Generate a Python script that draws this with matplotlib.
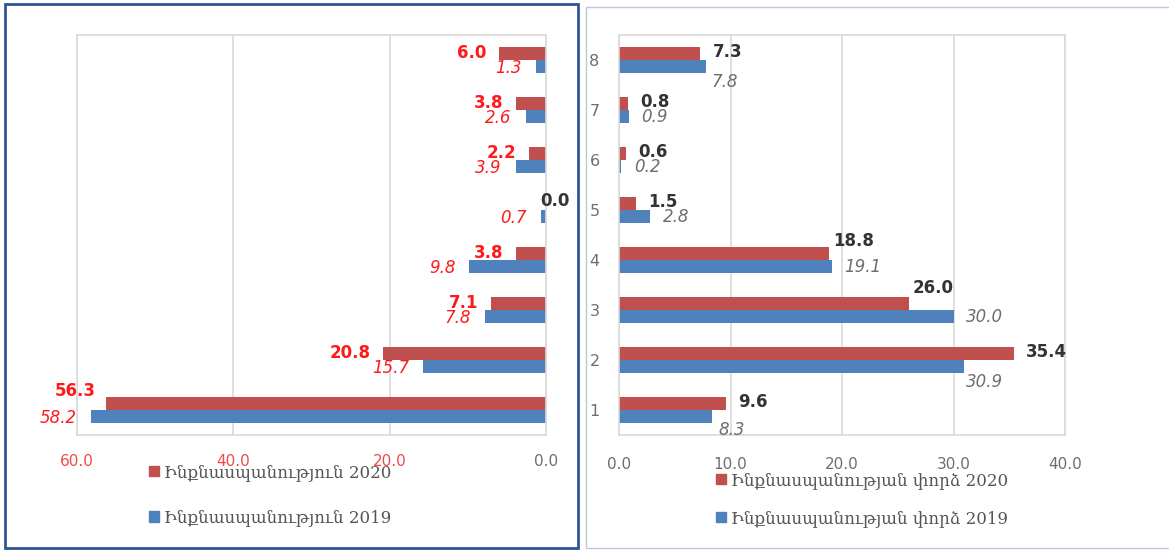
import matplotlib.pyplot as plt
from matplotlib.patches import Rectangle, Patch
import numpy as np

# дані: категорії 1..8 (знизу вгору)
categories = ['1', '2', '3', '4', '5', '6', '7', '8']
suicide_2020 = [56.3, 20.8, 7.1, 3.8, 0.0, 2.2, 3.8, 6.0]
suicide_2019 = [58.2, 15.7, 7.8, 9.8, 0.7, 3.9, 2.6, 1.3]
attempt_2020 = [9.6, 35.4, 26.0, 18.8, 1.5, 0.6, 0.8, 7.3]
attempt_2019 = [8.3, 30.9, 30.0, 19.1, 2.8, 0.2, 0.9, 7.8]

left_ticks = [0, 20, 40, 60]
right_ticks = [0, 10, 20, 30, 40]

label_left_2020 = 'Ինքնասպանություն 2020'
label_left_2019 = 'Ինքնասպանություն 2019'
label_right_2020 = 'Ինքնասպանության փորձ 2020'
label_right_2019 = 'Ինքնասպանության փորձ 2019'

RED = '#C0504D'
BLUE = '#4F81BD'
GRID = '#D9D9D9'
LBL_RED = '#FF1A1A'
TICK_RED = '#F04848'
DARK = '#333333'
GRAY = '#6E6E6E'

# зсуви підписів (точки), де в оригіналі вони пересунуті вручну
shift_left_2020 = {0: (-7, 9)}
shift_right_2020 = {2: (3, 11), 3: (3, 9)}
shift_right_2019 = {0: (5, -10), 1: (2, -11), 7: (4, -11)}

W, H = 1169, 550
fig = plt.figure(figsize=(W / 100, H / 100), dpi=100)

# рамки панелей
fig.patches.append(Rectangle((5 / W, 2 / H), 573 / W, 544 / H, transform=fig.transFigure,
                             fill=False, edgecolor='#2F5597', linewidth=2))
fig.patches.append(Rectangle((586 / W, 2 / H), 600 / W, 541 / H, transform=fig.transFigure,
                             fill=False, edgecolor='#BCC8DA', linewidth=1))

y = np.arange(len(categories))
h = 0.26

ax1 = fig.add_axes([77 / W, 115 / H, 469 / W, 400 / H])
ax2 = fig.add_axes([619 / W, 115 / H, 446 / W, 400 / H])

for ax in (ax1, ax2):
    ax.set_ylim(-0.5, len(categories) - 0.5)
    ax.grid(axis='x', color=GRID, linewidth=1.2)
    ax.set_axisbelow(True)
    for s in ax.spines.values():
        s.set_color(GRID)
        s.set_linewidth(1.2)
    ax.tick_params(length=0)

# ліва панель
ax1.barh(y + h / 2, suicide_2020, height=h, color=RED)
ax1.barh(y - h / 2, suicide_2019, height=h, color=BLUE)
ax1.set_xlim(60, 0)
ax1.set_xticks(left_ticks)
ax1.set_xticklabels([f'{t:.1f}' for t in left_ticks], fontsize=11)
for t in ax1.get_xticklabels():
    t.set_color(GRAY if t.get_text() == '0.0' else TICK_RED)
ax1.tick_params(axis='x', pad=14)
ax1.set_yticks([])

for i, v in enumerate(suicide_2020):
    if v == 0:
        ax1.annotate(f'{v:.1f}', (v, y[i] + h / 2), xytext=(-4, 2), textcoords='offset points',
                     ha='left', va='center', fontsize=12, fontweight='bold', color=DARK)
    else:
        dx, dy = shift_left_2020.get(i, (-9, 0))
        ax1.annotate(f'{v:.1f}', (v, y[i] + h / 2), xytext=(dx, dy), textcoords='offset points',
                     ha='right', va='center', fontsize=12, fontweight='bold', color=LBL_RED)
for i, v in enumerate(suicide_2019):
    ax1.annotate(f'{v:.1f}', (v, y[i] - h / 2), xytext=(-10, -1), textcoords='offset points',
                 ha='right', va='center', fontsize=12, fontstyle='italic', color=LBL_RED)

# права панель
ax2.barh(y + h / 2, attempt_2020, height=h, color=RED)
ax2.barh(y - h / 2, attempt_2019, height=h, color=BLUE)
ax2.set_xlim(0, 40)
ax2.set_xticks(right_ticks)
ax2.set_xticklabels([f'{t:.1f}' for t in right_ticks], fontsize=11, color=GRAY)
ax2.tick_params(axis='x', pad=16)
ax2.set_yticks(y)
ax2.set_yticklabels(categories, fontsize=11.5, color=GRAY)
ax2.tick_params(axis='y', pad=14)

for i, v in enumerate(attempt_2020):
    dx, dy = shift_right_2020.get(i, (9, 1))
    ax2.annotate(f'{v:.1f}', (v, y[i] + h / 2), xytext=(dx, dy), textcoords='offset points',
                 ha='left', va='center', fontsize=12, fontweight='bold', color=DARK)
for i, v in enumerate(attempt_2019):
    dx, dy = shift_right_2019.get(i, (9, 0))
    ax2.annotate(f'{v:.1f}', (v, y[i] - h / 2), xytext=(dx, dy), textcoords='offset points',
                 ha='left', va='center', fontsize=12, fontstyle='italic', color=GRAY)

# легенди
leg_font = {'family': ['DejaVu Serif', 'DejaVu Sans'], 'size': 12}
handles1 = [Patch(color=RED, label=label_left_2020), Patch(color=BLUE, label=label_left_2019)]
fig.legend(handles=handles1, loc='upper center', bbox_to_anchor=(270 / W, 1 - 449 / H),
           frameon=False, prop=leg_font, handlelength=0.6, handleheight=0.6,
           handletextpad=0.3, labelspacing=1.7, labelcolor='#555555')
handles2 = [Patch(color=RED, label=label_right_2020), Patch(color=BLUE, label=label_right_2019)]
fig.legend(handles=handles2, loc='upper center', bbox_to_anchor=(862 / W, 1 - 457 / H),
           frameon=False, prop=leg_font, handlelength=0.6, handleheight=0.6,
           handletextpad=0.3, labelspacing=1.25, labelcolor='#555555')

fig.savefig('out.png', dpi=100)
